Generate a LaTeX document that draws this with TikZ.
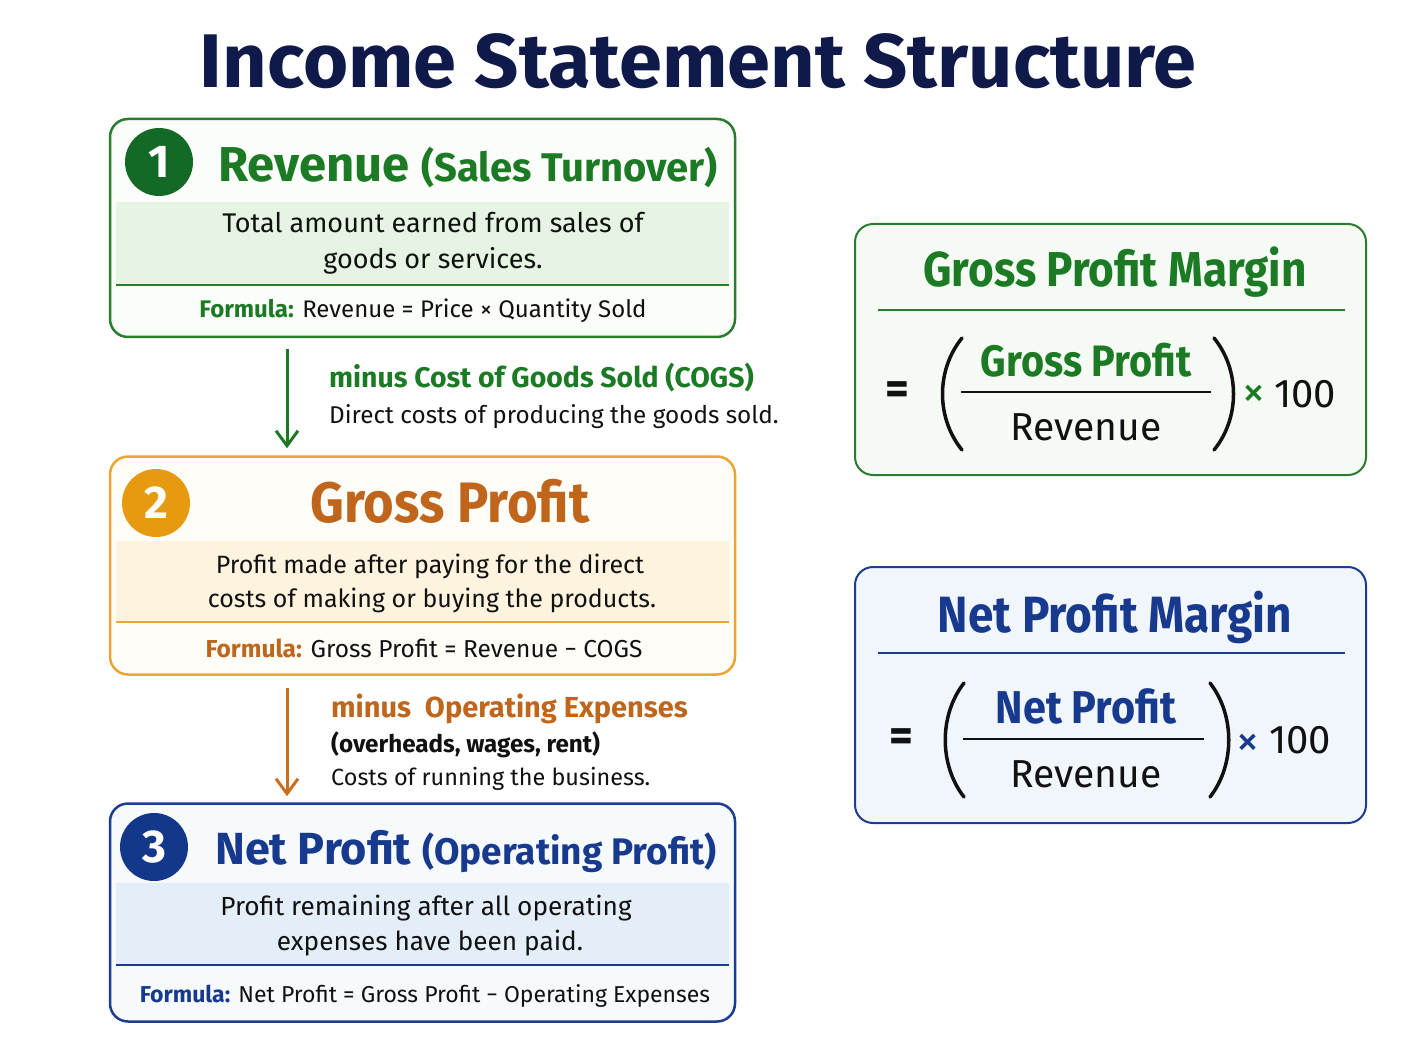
\documentclass[tikz,border=0pt]{standalone}
\usepackage{fontspec}
\setmainfont{Fira Sans}
\usetikzlibrary{arrows.meta,calc}
\definecolor{cTitle}{HTML}{0F1A4B}
\definecolor{cG}{HTML}{1C7A24}
\definecolor{cGb}{HTML}{2A7D2E}
\definecolor{cGdark}{HTML}{136A26}
\definecolor{cGband}{HTML}{E6F4E3}
\definecolor{cGfill}{HTML}{FAFDF9}
\definecolor{cO}{HTML}{C0661C}
\definecolor{cOb}{HTML}{EBA535}
\definecolor{cOdark}{HTML}{E59A10}
\definecolor{cOband}{HTML}{FDF3DE}
\definecolor{cOfill}{HTML}{FFFDF8}
\definecolor{cOarr}{HTML}{C96E1E}
\definecolor{cB}{HTML}{173A8E}
\definecolor{cBb}{HTML}{1C3D8F}
\definecolor{cBdark}{HTML}{143889}
\definecolor{cBband}{HTML}{E4EEF9}
\definecolor{cBfill}{HTML}{F7FAFD}
\definecolor{cRGfill}{HTML}{F5FBF4}
\definecolor{cRBfill}{HTML}{F1F5FC}
\definecolor{cInk}{HTML}{111111}
\newcommand\fsz[1]{\fontsize{#1}{#1}\selectfont}
\newcommand\squeeze[2]{\scalebox{#1}[1]{#2}}
\tikzset{
  mainbox/.style={rounded corners=18pt, line width=2.5pt, minimum width=625pt, minimum height=218pt, inner sep=0pt},
  sidebox/.style={rounded corners=18pt, line width=2pt, minimum width=511pt, inner sep=0pt},
  numdot/.style={circle, minimum size=68pt, inner sep=0pt, text=white, font=\fsz{46}\bfseries},
  tx/.style={anchor=base, inner sep=0pt, text=cInk},
  txw/.style={anchor=base west, inner sep=0pt, text=cInk},
  flowarrow/.style={line width=3pt, -{Straight Barb[length=15pt,width=22pt,line width=3pt]}},
  paren/.style={line width=3.5pt, line cap=round},
}
\begin{document}
\begin{tikzpicture}[x=1pt,y=-1pt]
\useasboundingbox (0,0) rectangle (1408,1056);
\fill[white] (0,0) rectangle (1408,1056);

% title
\node[tx, text=cTitle] (title) at (698,88) {\squeeze{1.02}{\fsz{76}\bfseries Income Statement Structure}};

% ---------- box 1
\node[mainbox, draw=cGb, fill=cGfill] (b1) at (422.5,228) {};
\fill[cGband] (116,202) rectangle (729,285);
\draw[cGb, line width=1.5pt] (116,285) -- (729,285);
\node[numdot, fill=cGdark] (n1) at (159,162) {1};
\node[txw, text=cG] (h1) at (218,182) {\fsz{49}\bfseries Revenue\hspace{12pt}\fsz{40}(Sales Turnover)};
\node[tx] (d1a) at (433,233) {\fsz{27}Total amount earned from sales of};
\node[tx] (d1b) at (433,269) {\fsz{27}goods or services.};
\node[tx] (f1) at (423,318) {\fsz{24}\textcolor{cG}{\bfseries Formula:} Revenue = Price × Quantity Sold};

% ---------- box 2
\node[mainbox, draw=cOb, fill=cOfill] (b2) at (422.5,565.5) {};
\fill[cOband] (116,541) rectangle (729,622);
\draw[cOb, line width=1.5pt] (116,622) -- (729,622);
\node[numdot, fill=cOdark] (n2) at (156,503) {2};
\node[tx, text=cO] (h2) at (450,522) {\squeeze{0.92}{\fsz{57}\bfseries Gross Profit}};
\node[tx] (d2a) at (430,573) {\fsz{25}Profit made after paying for the direct};
\node[tx] (d2b) at (432,607) {\fsz{25}costs of making or buying the products.};
\node[tx] (f2) at (424,657) {\fsz{24.5}\textcolor{cO}{\bfseries Formula:} Gross Profit = Revenue − COGS};

% ---------- box 3
\node[mainbox, draw=cBb, fill=cBfill] (b3) at (422.5,912.5) {};
\fill[cBband] (116,883) rectangle (729,965);
\draw[cBb, line width=1.5pt] (116,965) -- (729,965);
\node[numdot, fill=cBdark] (n3) at (154,847) {3};
\node[txw, text=cB] (h3) at (215,864) {\fsz{45}\bfseries Net Profit\hspace{11pt}\fsz{37}(Operating Profit)};
\node[tx] (d3a) at (426,915) {\fsz{26.2}Profit remaining after all operating};
\node[tx] (d3b) at (430,950) {\fsz{26.2}expenses have been paid.};
\node[tx] (f3) at (425,1002) {\fsz{23}\textcolor{cB}{\bfseries Formula:} Net Profit = Gross Profit − Operating Expenses};

% ---------- arrows
\draw[flowarrow, cG] ($(b1.south)+(-135.5,11)$) -- ($(b2.north)+(-135.5,-7)$);
\node[txw, text=cG] (m1a) at (329,388) {\fsz{28.4}\bfseries minus Cost of Goods Sold (COGS)};
\node[txw] (m1b) at (329,423) {\fsz{24.3}Direct costs of producing the goods sold.};

\draw[flowarrow, cOarr] ($(b2.south)+(-135.5,12)$) -- ($(b3.north)+(-135.5,-6)$);
\node[txw, text=cO] (m2a) at (331,717) {\fsz{29}\bfseries minus\ \ Operating Expenses};
\node[txw] (m2b) at (331,752) {\fsz{24.2}\bfseries (overheads, wages, rent)};
\node[txw] (m2c) at (331,785) {\fsz{23.4}Costs of running the business.};

% ---------- right box: gross profit margin
\node[sidebox, draw=cGb, fill=cRGfill, minimum height=251pt] (gm) at (1110.5,349.5) {};
\node[tx, text=cG] (gmt) at (1115,287) {\squeeze{0.9}{\fsz{49}\bfseries Gross Profit Margin}};
\draw[cGb, line width=2pt] (878,310) -- (1345,310);
\node[inner sep=0pt, text=cInk] (gmeq) at (897,393) {\fsz{46}\bfseries =};
\draw[paren, cInk] (962,338) .. controls (936,370) and (936,418) .. (962,450);
\draw[paren, cInk] (1214,338) .. controls (1240,370) and (1240,418) .. (1214,450);
\node[tx, text=cG] (gmn) at (1086,377) {\squeeze{0.9}{\fsz{44}\bfseries Gross Profit}};
\draw[cInk, line width=2.5pt] (961,392) -- (1211,392);
\node[tx] (gmd) at (1086,440) {\fsz{39}Revenue};
\node[inner sep=0pt, text=cG] (gmx) at (1254,396) {\fsz{46}×};
\node[txw] (gmh) at (1274,407) {\fsz{40}100};

% ---------- right box: net profit margin
\node[sidebox, draw=cBb, fill=cRBfill, minimum height=256pt] (nm) at (1110.5,695) {};
\node[tx, text=cB] (nmt) at (1115,632) {\squeeze{0.9}{\fsz{51}\bfseries Net Profit Margin}};
\draw[cBb, line width=2pt] (878,653) -- (1345,653);
\node[inner sep=0pt, text=cInk] (nmeq) at (901,740) {\fsz{46}\bfseries =};
\draw[paren, cInk] (964,683) .. controls (939,715) and (939,765) .. (964,797);
\draw[paren, cInk] (1210,683) .. controls (1235,715) and (1235,765) .. (1210,797);
\node[tx, text=cB] (nmn) at (1086,723) {\squeeze{0.9}{\fsz{46}\bfseries Net Profit}};
\draw[cInk, line width=2.5pt] (963,739) -- (1204,739);
\node[tx] (nmd) at (1086,787) {\fsz{39}Revenue};
\node[inner sep=0pt, text=cB] (nmx) at (1248,745) {\fsz{46}×};
\node[txw] (nmh) at (1269,753) {\fsz{40}100};
\end{tikzpicture}
\end{document}
